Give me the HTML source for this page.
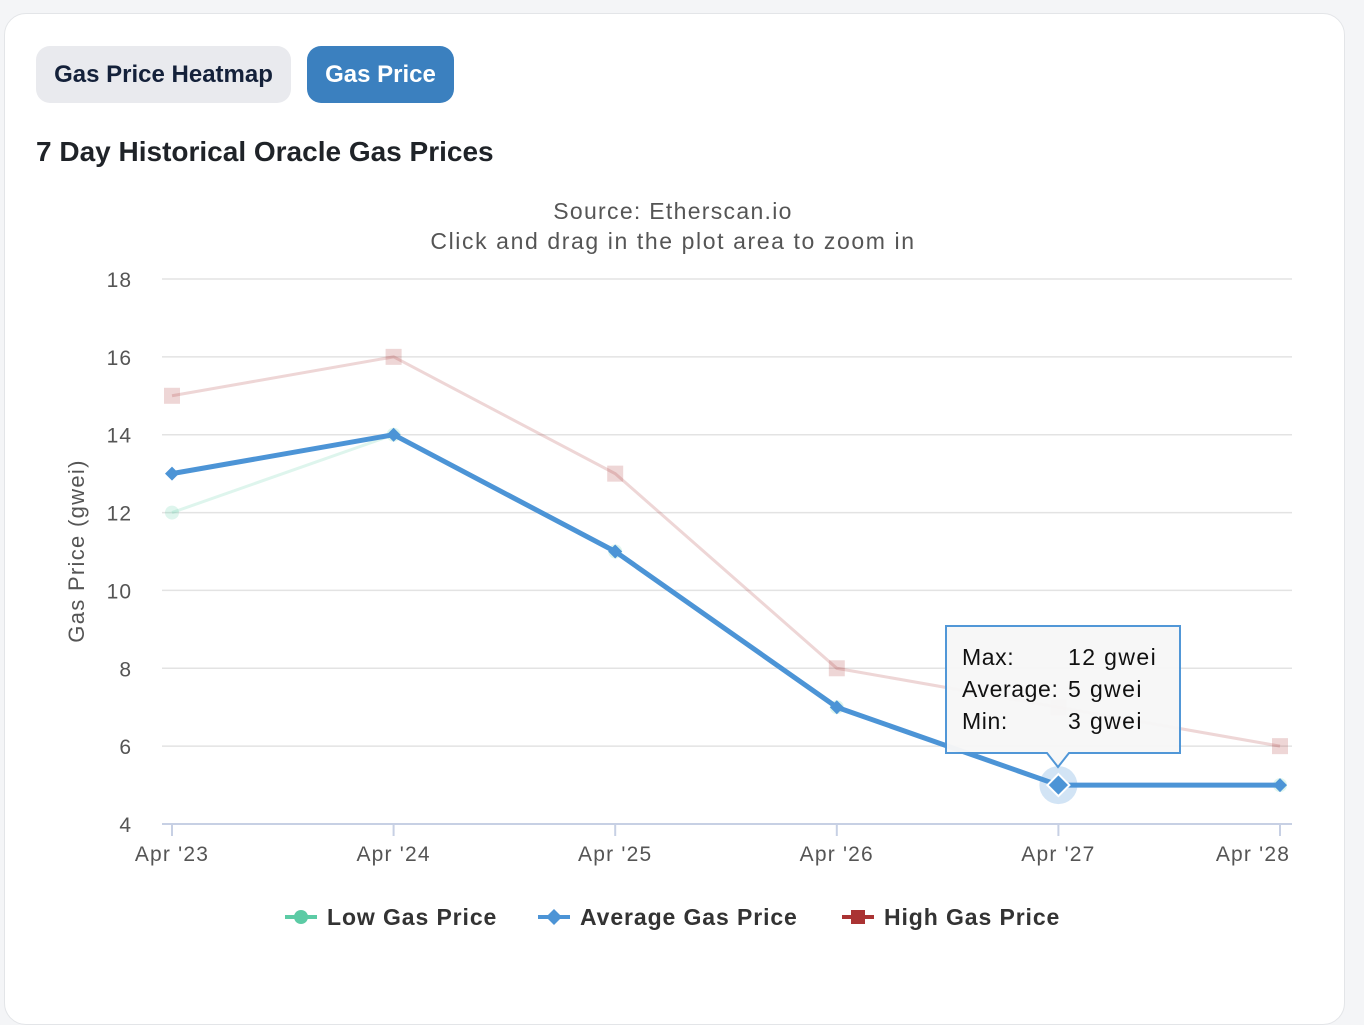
<!DOCTYPE html>
<html><head><meta charset="utf-8"><style>
body{margin:0;width:1364px;height:1008px;background:#f4f5f7;font-family:"Liberation Sans",sans-serif;overflow:hidden;position:relative}
.card{position:absolute;left:4px;top:13px;width:1339px;height:1010px;background:#fff;border:1px solid #e3e5e8;border-radius:22px}
.btn{position:absolute;top:46px;height:57px;border-radius:14px;font-weight:bold;font-size:24px;line-height:57px;text-align:center}
h1{position:absolute;left:36px;top:136px;margin:0;font-size:28px;color:#1f2328;font-weight:bold}
</style></head><body>
<div class="card"></div>
<div class="btn" style="left:36px;width:255px;background:#e9eaee;color:#14213a">Gas Price Heatmap</div>
<div class="btn" style="left:307px;width:147px;background:#3b80bf;color:#fff">Gas Price</div>
<h1>7 Day Historical Oracle Gas Prices</h1>
<svg id="c" width="1364" height="1008" style="position:absolute;left:0;top:0" font-family="Liberation Sans, sans-serif"></svg>
<script>
const categories=["Apr '23","Apr '24","Apr '25","Apr '26","Apr '27","Apr '28"];
const lowValues=[12,14,11,7,5,5];
const avgValues=[13,14,11,7,5,5];
const highValues=[15,16,13,8,7,6];
const yTicks=[4,6,8,10,12,14,16,18];
const NS="http://www.w3.org/2000/svg";
const svg=document.getElementById('c');
const x=i=>172+i*221.6;
const y=v=>824-(v-4)*(545/14);
function el(t,a,p){const e=document.createElementNS(NS,t);for(const k in a)e.setAttribute(k,a[k]);(p||svg).appendChild(e);return e;}
function txt(s,a){const e=el('text',a);e.textContent=s;return e;}
let t=txt('Source: Etherscan.io',{x:673,y:219,'text-anchor':'middle','font-size':23,fill:'#555','letter-spacing':1.3});

t=txt('Click and drag in the plot area to zoom in',{x:673,y:249,'text-anchor':'middle','font-size':23,fill:'#555','letter-spacing':1.6});

yTicks.forEach(v=>{
 if(v>4){const g=el('line',{x1:162,x2:1292,y1:y(v),y2:y(v),stroke:'#e3e3e3','stroke-width':1.5});}
 const l=txt(String(v),{x:132,y:y(v)+8,'text-anchor':'end','font-size':21,fill:'#555','letter-spacing':1});
 
});
let ax=el('line',{x1:162,x2:1292,y1:824,y2:824,stroke:'#c7d0e4','stroke-width':2});

categories.forEach((c,i)=>{
 const tk=el('line',{x1:x(i),x2:x(i),y1:824,y2:836,stroke:'#c7d0e4','stroke-width':2});
 
 const l=txt(c,{x:i==5?1253:x(i),y:861,'text-anchor':'middle','font-size':21,fill:'#555','letter-spacing':1.2});
 
});
t=txt('Gas Price (gwei)',{x:0,y:0,transform:'translate(84,551) rotate(-90)','text-anchor':'middle','font-size':22,fill:'#555','letter-spacing':1.3});

const pts=a=>a.map((v,i)=>x(i)+','+y(v)).join(' ');
let p=el('polyline',{points:pts(highValues),fill:'none',stroke:'#a33',opacity:0.2,'stroke-width':3});

highValues.forEach((v,i)=>{const m=el('rect',{x:x(i)-8,y:y(v)-8,width:16,height:16,fill:'#a33',opacity:0.2});});
p=el('polyline',{points:pts(lowValues),fill:'none',stroke:'#5ccba5',opacity:0.2,'stroke-width':3});

lowValues.forEach((v,i)=>{const m=el('circle',{cx:x(i),cy:y(v),r:7,fill:'#5ccba5',opacity:0.2});});
const hl=el('circle',{cx:x(4),cy:y(avgValues[4]),r:19,fill:'#4c94d6',opacity:0.25});

p=el('polyline',{points:pts(avgValues),fill:'none',stroke:'#4c94d6','stroke-width':5,'stroke-linejoin':'round'});

avgValues.forEach((v,i)=>{const r=i==4?11:7;const m=el('polygon',{points:`${x(i)},${y(v)-r} ${x(i)+r},${y(v)} ${x(i)},${y(v)+r} ${x(i)-r},${y(v)}`,fill:'#4c94d6',stroke:i==4?'#fff':'none','stroke-width':2});});
const tg=el('g',{});

el('path',{d:'M946,626 H1180 V753 H1069 L1058,767 L1047,753 H946 Z',fill:'#f7f7f7',stroke:'#4c94d6','stroke-width':2,opacity:0.97},tg);
[['Max:','12 gwei',665],['Average:','5 gwei',697],['Min:','3 gwei',729]].forEach(r=>{
 const a=document.createElementNS(NS,'text');a.setAttribute('x',962);a.setAttribute('y',r[2]);a.setAttribute('font-size',23);a.setAttribute('fill','#111');a.setAttribute('letter-spacing',0.6);a.textContent=r[0];tg.appendChild(a);
 const b=document.createElementNS(NS,'text');b.setAttribute('x',1068);b.setAttribute('y',r[2]);b.setAttribute('font-size',23);b.setAttribute('fill','#111');b.setAttribute('letter-spacing',1.4);b.textContent=r[1];tg.appendChild(b);
});
const leg=[['Low Gas Price','#5ccba5',285,'c'],['Average Gas Price','#4c94d6',538,'d'],['High Gas Price','#a33',842,'s']];
leg.forEach(L=>{
 const g=el('g',{});
 el('line',{x1:L[2],x2:L[2]+32,y1:917,y2:917,stroke:L[1],'stroke-width':4},g);
 const cx=L[2]+16;
 if(L[3]=='c')el('circle',{cx:cx,cy:917,r:7,fill:L[1]},g);
 else if(L[3]=='d')el('polygon',{points:`${cx},909 ${cx+8},917 ${cx},925 ${cx-8},917`,fill:L[1]},g);
 else el('rect',{x:cx-7,y:910,width:14,height:14,fill:L[1]},g);
 const tx=document.createElementNS(NS,'text');tx.setAttribute('x',L[2]+42);tx.setAttribute('y',925);tx.setAttribute('font-size',23);tx.setAttribute('font-weight','bold');tx.setAttribute('fill','#333');tx.setAttribute('letter-spacing',0.9);tx.textContent=L[0];g.appendChild(tx);
});
</script>
</body></html>
